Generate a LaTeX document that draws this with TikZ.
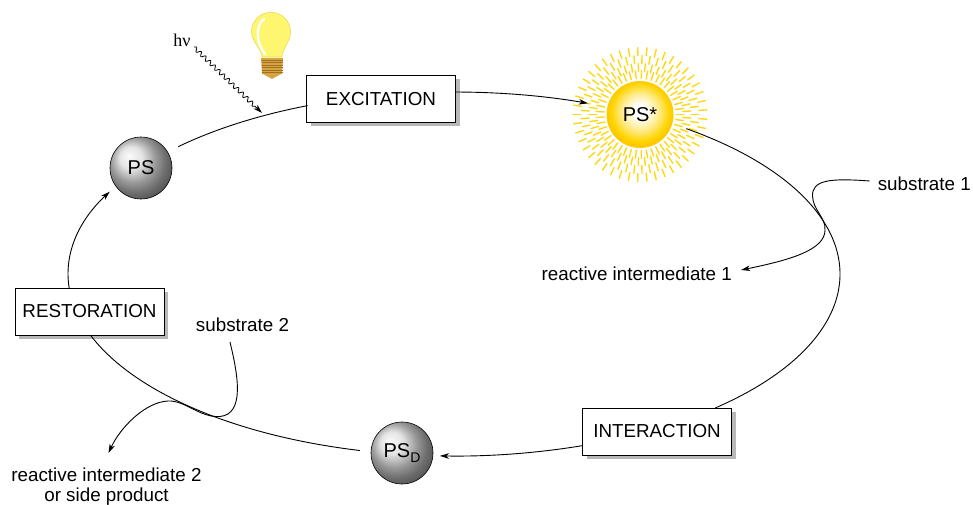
\documentclass[tikz,border=0pt]{standalone}
\usepackage{fontspec}
\setmainfont{Liberation Sans}
\newfontfamily\greekserif{Liberation Serif}
\usetikzlibrary{arrows.meta,decorations.pathmorphing,shadows,calc}

\definecolor{sunY}{RGB}{255,212,0}
\definecolor{rayY}{RGB}{255,216,20}
\definecolor{bulbY}{RGB}{255,246,112}
\definecolor{bulbEdge}{RGB}{236,220,80}
\definecolor{baseG}{RGB}{214,164,64}
\definecolor{baseD}{RGB}{160,112,32}

% glowing core of the excited photosensitizer
\pgfdeclareradialshading{sunglow}{\pgfpoint{0bp}{3bp}}{%
  color(0bp)=(white); color(5bp)=(white);
  color(14bp)=(sunY!45!white); color(22bp)=(sunY);
  color(25bp)=(sunY!85!orange); color(50bp)=(sunY!85!orange)}

\begin{document}
\begin{tikzpicture}[x=1pt,y=1pt,
  every node/.style={font=\fontsize{18.8}{20}\selectfont},
  conn/.style={line width=0.9pt, draw=black},
  tip/.style={-{Stealth[length=9pt,width=5.5pt,inset=2.5pt]}},
  stagebox/.style={draw, line width=0.8pt, fill=white,
    minimum width=149pt, minimum height=47pt, inner sep=0pt,
    drop shadow={shadow xshift=4pt, shadow yshift=-4pt, fill=black!28, opacity=1}},
  sphere/.style={circle, minimum size=62pt, inner sep=0pt,
    ball color=white!72!gray, draw=black, line width=0.6pt,
    font=\fontsize{20}{22}\selectfont},
  lbl/.style={inner sep=0pt},
  ray/.style={rayY, line width=1.4pt, line cap=round},
  cyc/.style={conn, x radius=386pt, y radius=182pt},
]
\useasboundingbox (0,0) rectangle (973,-504);

% ---- stage boxes ----
\node[stagebox] (exc) at (381,-98.7) {EXCITATION};
\node[stagebox] (res) at (89.5,-311.5) {RESTORATION};
\node[stagebox] (int) at (657,-431.5) {INTERACTION};

% ---- ground-state and deactivated photosensitizer ----
\node[sphere] (ps) at (141,-168) {PS};
\node[sphere] (psd) at (402,-453) {PS\raisebox{-4.5pt}{\fontsize{14}{14}\selectfont D}};

% ---- excited photosensitizer with rays ----
\coordinate (sunc) at (640,-114.5);
\foreach \ang in {0,8,...,352} {
  \draw[ray] ($(sunc)+(\ang:36pt)$) -- ($(sunc)+(\ang:44pt)$);
  \draw[ray] ($(sunc)+(\ang:51pt)$) -- ($(sunc)+(\ang:59pt)$);
}
\foreach \ang in {4,12,...,356} {
  \draw[ray] ($(sunc)+(\ang:43pt)$) -- ($(sunc)+(\ang:51pt)$);
  \draw[ray] ($(sunc)+(\ang:59pt)$) -- ($(sunc)+(\ang:67pt)$);
}
\node[circle, minimum size=66pt, inner sep=0pt, shading=sunglow,
      draw=sunY!90!orange, line width=1pt,
      font=\fontsize{20}{22}\selectfont] (pss) at (sunc) {PS*};

% ---- light bulb ----
\fill[bulbY, draw=bulbEdge, line width=0.6pt]
  (262,-57) .. controls (262,-49) and (251.5,-42) .. (251.5,-31.8)
  arc[start angle=180, end angle=0, radius=19.5pt]
  .. controls (290.5,-42) and (282,-49) .. (282,-57) -- cycle;
\draw[white, line width=2.4pt, line cap=round]
  (264,-19) .. controls (256,-25) and (255,-41) .. (265,-54);
\fill[baseG] (261,-58) -- (283,-58) -- (282,-74) -- (262,-74) -- cycle;
\foreach \yy in {60,62.5,...,72.5}
  \draw[baseD, line width=0.7pt] (261.5,-\yy) -- (282.5,-\yy);
\fill[baseG] (263,-74) -- (281,-74) -- (272,-79) -- cycle;

% ---- photon ----
\node[lbl, font=\greekserif\fontsize{18}{20}\selectfont] (hv) at (182,-40) {hν};
\coordinate (hvend) at (262,-113);
\draw[conn, line width=0.8pt, tip, decorate,
      decoration={snake, amplitude=2pt, segment length=6.5pt, post length=8pt}]
  ($(hv.east)+(3,-7)$) -- (hvend);

% ---- catalytic cycle: arcs of one ellipse centred at E ----
\coordinate (E) at (454,-274);
\coordinate (ps-out)  at ($(E)+(135.6:386pt and 182pt)$);
\coordinate (exc-out) at ($(E)+(89.7:386pt and 182pt)$);
\coordinate (pss-out) at ($(E)+(53:386pt and 182pt)$);
\coordinate (int-out) at ($(E)+(-70.6:386pt and 182pt)$);
\coordinate (psd-out) at ($(E)+(-104.1:386pt and 182pt)$);
\coordinate (res-out) at ($(E)+(-175.6:386pt and 182pt)$);

\draw[cyc] (ps-out) arc[start angle=135.6, end angle=112.3];
\draw[cyc, tip] (exc-out) arc[start angle=89.7, end angle=69.7];
\draw[cyc] (pss-out) arc[start angle=53, end angle=-47.4];
\draw[cyc, tip] (int-out) arc[start angle=-70.6, end angle=-92.1];
\draw[cyc] (psd-out) arc[start angle=-104.1, end angle=-160.4];
\draw[cyc, tip] (res-out) arc[start angle=-175.6, end angle=-206.9];

% ---- substrates and intermediates ----
\node[lbl, anchor=east] (s1) at (971,-183.5) {substrate 1};
\node[lbl, anchor=west] (ri1) at (541.5,-274) {reactive intermediate 1};
\node[lbl] (s2) at (242.5,-325) {substrate 2};
\node[lbl, align=center] (ri2) at (106.5,-486.5) {reactive intermediate 2\\or side product};

\draw[conn, tip] ($(s1.west)+(-8,2.5)$)
  .. controls (830,-178) and (812,-180) .. (812.5,-196)
  .. controls (813,-210) and (826,-218) .. (825,-230)
  .. controls (825,-250) and (790,-260) .. (741,-270);

\draw[conn, tip] ($(s2.south)+(-12.5,-10)$)
  .. controls (238,-375) and (245,-414) .. (220,-416.5)
  .. controls (200,-418) and (185,-400) .. (168,-401)
  .. controls (145,-402) and (120,-428) .. (108.5,-453);

\end{tikzpicture}
\end{document}
